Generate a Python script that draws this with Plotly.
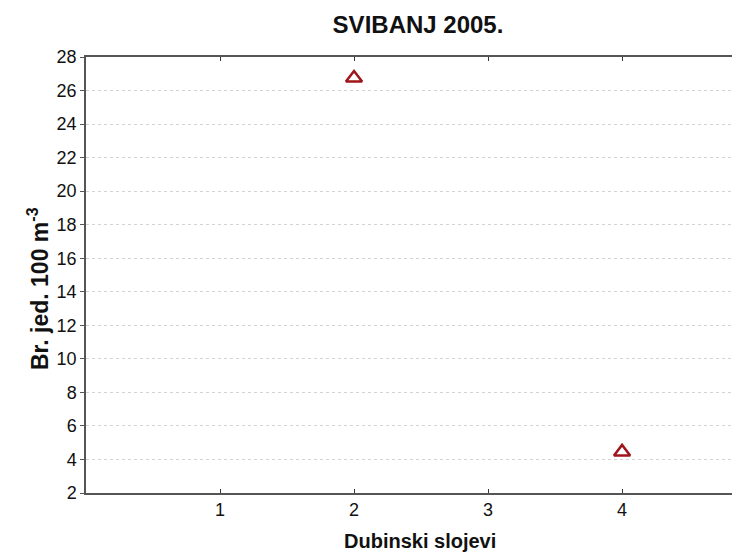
import plotly.graph_objects as go

depth_layers = [2, 4]
abundance = [26.75, 4.45]
x_ticks = [1, 2, 3, 4]
y_ticks = list(range(2, 29, 2))

W, H = 732, 551  # page adds an 8px body margin
L, T, B = 78, 49, 66
PW, PH = W - L, H - T - B

fig = go.Figure()
fig.add_trace(go.Scatter(
    x=depth_layers, y=abundance, mode="markers",
    marker=dict(symbol="triangle-up-open", size=14, color="#a0141c",
                line=dict(width=2.5, color="#a0141c")),
    showlegend=False, cliponaxis=False,
))

font = "Liberation Sans, Arial, sans-serif"
fig.update_layout(
    width=W, height=H,
    margin=dict(l=L, r=0, t=T, b=B, autoexpand=False),
    plot_bgcolor="white", paper_bgcolor="white",
    font=dict(family=font, size=18, color="#111"),
    title=dict(text="<b>SVIBANJ 2005.</b>", x=410/W, xanchor="center",
               y=1 - 17/H, yanchor="middle",
               font=dict(size=24, family=font, color="#111")),
    xaxis=dict(range=[0, 4.88], tickvals=x_ticks, ticks="inside", ticklen=4,
               tickcolor="#333", showgrid=False, zeroline=False, automargin=False,
               showline=True, linecolor="#555", linewidth=1.5, mirror="ticks",
               tickfont=dict(size=18)),
    yaxis=dict(range=[2, 28], tickvals=y_ticks, ticks="outside", ticklen=4,
               tickcolor="#555", showgrid=True, gridcolor="#d2d2d2", griddash="dot",
               gridwidth=1, zeroline=False, showline=True, linecolor="#555",
               linewidth=1.5, automargin=False,
               tickfont=dict(size=18)),
    annotations=[
        dict(text="<b>Dubinski slojevi</b>", xref="paper", yref="paper",
             x=(412 - L) / PW, y=(PH - (533 - T)) / PH, xanchor="center", yanchor="middle",
             showarrow=False, font=dict(size=20, family=font, color="#111")),
        dict(text="<b>Br. jed. 100 m<sup>-3</sup></b>", xref="paper", yref="paper",
             x=(30 - L) / PW, y=(PH - (281 - T)) / PH, xanchor="center", yanchor="middle",
             textangle=-90, showarrow=False, font=dict(size=23, family=font, color="#111")),
    ],
)
fig.write_html("out.html")
